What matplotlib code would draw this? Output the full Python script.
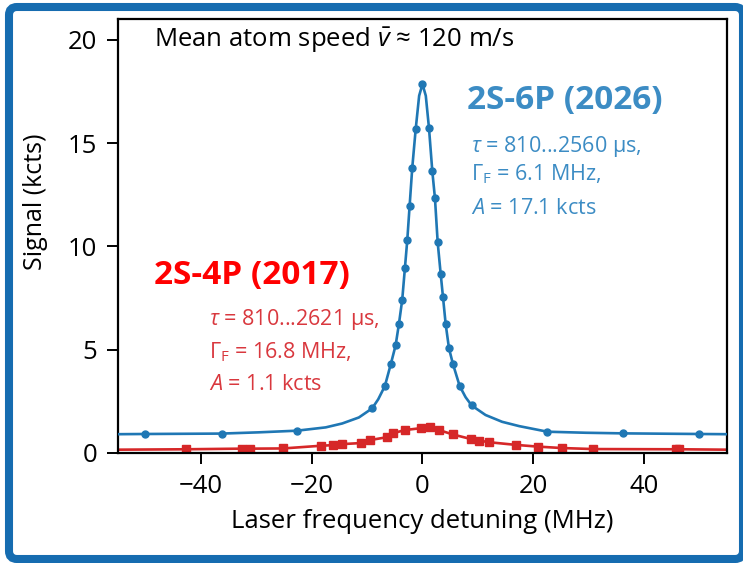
import matplotlib
matplotlib.use("Agg")
import matplotlib.pyplot as plt
from matplotlib.patches import FancyBboxPatch

# 2S-6P measurement points (dots) and extra readings along the fit line
blue_x = [-50.1, -36.3, -22.7, -9.1, -6.8, -5.7, -4.85, -4.25, -3.66, -3.17, -2.75, -2.32, -1.85, -1.23, 0.0,
          1.18, 1.78, 2.26, 2.75, 3.29, 3.71, 4.2, 4.8, 5.52, 6.73, 8.9, 22.6, 36.3, 50.0]
blue_y = [0.92, 0.94, 1.08, 2.16, 3.24, 4.33, 5.22, 6.26, 7.42, 8.97, 10.3, 11.98, 13.8, 15.67, 17.86,
          15.73, 13.64, 12.33, 10.2, 8.68, 7.55, 6.23, 5.06, 4.3, 3.24, 2.3, 1.03, 0.95, 0.92]
curve_x = [-55, -29.6, -17.5, -14.5, -11.5, -8.0, -0.6, 0.6, 7.8, 11.4, 14.4, 17.5, 29.5, 55]
curve_y = [0.91, 1.0, 1.24, 1.43, 1.72, 2.6, 17.3, 17.3, 2.7, 1.84, 1.51, 1.30, 0.98, 0.91]

# 2S-4P measurement points (squares)
red_x = [-42.7, -32.7, -31.1, -25.2, -18.4, -16.2, -14.5, -11.2, -9.4, -6.5, -5.4, -3.2, -0.35, 1.35, 3.0,
         5.45, 8.7, 10.25, 12.1, 17.0, 20.8, 25.2, 30.9, 45.8, 46.4]
red_y = [0.18, 0.21, 0.21, 0.22, 0.35, 0.38, 0.43, 0.48, 0.63, 0.76, 0.95, 1.11, 1.20, 1.24, 1.11,
         0.90, 0.68, 0.60, 0.52, 0.39, 0.31, 0.24, 0.19, 0.18, 0.18]
red_ends_x = [-55, 55]
red_ends_y = [0.16, 0.16]

x_ticks = [-40, -20, 0, 20, 40]
y_ticks = [0, 5, 10, 15, 20]

blue = "#1f77b4"
red = "#d62728"
blue_txt = "#3c8cc4"
red_txt = "#d9383e"

plt.rcParams["font.family"] = ["Open Sans", "DejaVu Sans"]
plt.rcParams["mathtext.fontset"] = "custom"
plt.rcParams["mathtext.rm"] = "Open Sans"
plt.rcParams["mathtext.it"] = "Open Sans:italic"
plt.rcParams["mathtext.bf"] = "Open Sans:bold"

fig = plt.figure(figsize=(7.43, 5.63), dpi=100)
ax = fig.add_axes([0.1592, 0.1954, 0.8188, 0.7703])

# blue fit line through dots + curve readings
line = sorted(zip(blue_x + curve_x, blue_y + curve_y))
ax.plot([p[0] for p in line], [p[1] for p in line], color=blue, lw=1.9, zorder=3)
ax.plot(blue_x, blue_y, "o", color=blue, ms=5, zorder=4)

rline = sorted(zip(red_x + red_ends_x, red_y + red_ends_y))
ax.plot([p[0] for p in rline], [p[1] for p in rline], color=red, lw=1.9, zorder=2)
ax.plot(red_x, red_y, "s", color=red, ms=5.3, zorder=2)

ax.set_xlim(-55, 55)
ax.set_ylim(0, 21)
ax.set_xticks(x_ticks)
ax.set_yticks(y_ticks)
ax.tick_params(direction="out", length=8, width=1.4, labelsize=18.5, pad=7, top=False, right=False)
for s in ax.spines.values():
    s.set_linewidth(1.6)

ax.set_xlabel("Laser frequency detuning (MHz)", fontsize=18.5, labelpad=7)
ax.set_ylabel("Signal (kcts)", fontsize=18)
ax.yaxis.set_label_coords(-0.115, 0.58)

ax.text(-48.6, 20.0, r"Mean atom speed $\bar{v}$ ≈ 120 m/s", fontsize=18.5, va="center")

ax.text(8.0, 17.05, "2S-6P (2026)", fontsize=24, fontweight="bold", color=blue_txt, va="center")
ax.text(8.78, 14.86, r"$\tau$ = 810...2560 μs,", fontsize=15.5, color=blue_txt, va="center")
ax.text(8.78, 13.48, r"$\Gamma_\mathrm{F}$ = 6.1 MHz,", fontsize=15.5, color=blue_txt, va="center")
ax.text(8.78, 11.86, r"$A$ = 17.1 kcts", fontsize=15.5, color=blue_txt, va="center")

ax.text(-48.6, 8.6, "2S-4P (2017)", fontsize=24, fontweight="bold", color="#ff0000", va="center")
ax.text(-38.6, 6.45, r"$\tau$ = 810...2621 μs,", fontsize=15.5, color=red_txt, va="center")
ax.text(-38.6, 4.88, r"$\Gamma_\mathrm{F}$ = 16.8 MHz,", fontsize=15.5, color=red_txt, va="center")
ax.text(-38.6, 3.33, r"$A$ = 1.1 kcts", fontsize=15.5, color=red_txt, va="center")

# blue rounded frame round the figure
frame = FancyBboxPatch((0.09, 0.04), 7.34, 5.52, boxstyle="round,pad=0,rounding_size=0.08",
                       transform=fig.dpi_scale_trans, fill=False, edgecolor="#166cb0", linewidth=5.8)
fig.patches.append(frame)

fig.savefig("out.png", dpi=100)
